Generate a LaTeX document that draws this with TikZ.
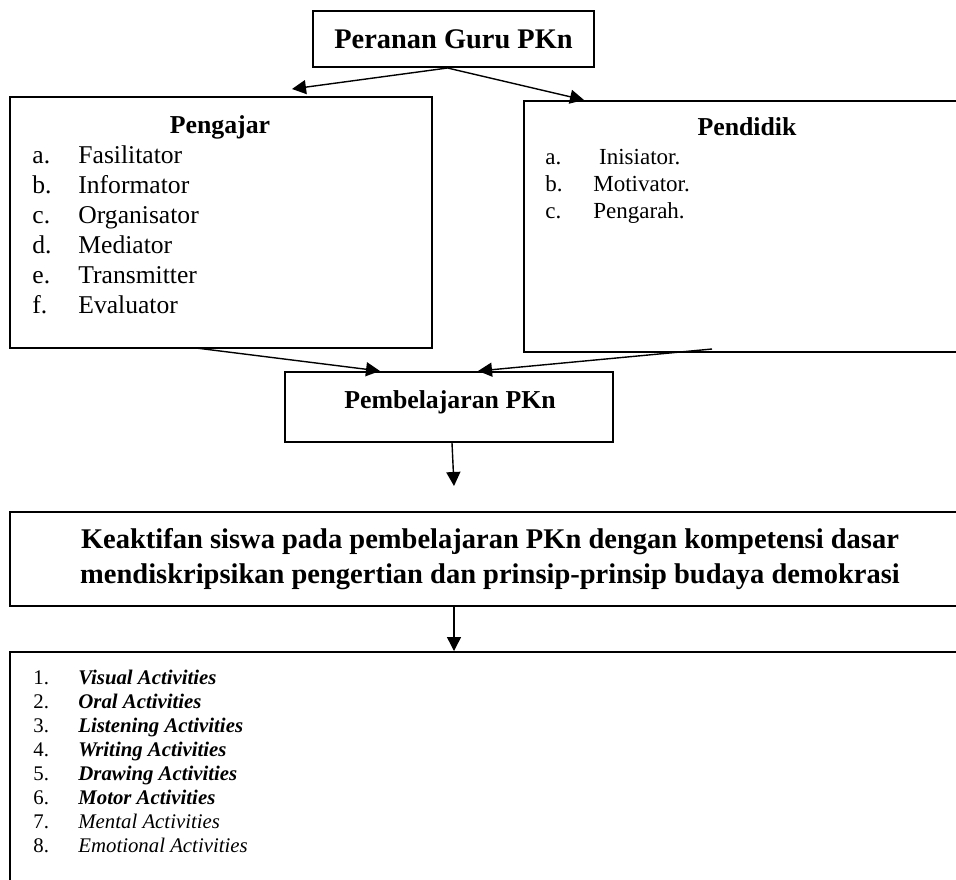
\documentclass[tikz,border=0pt]{standalone}
\usepackage{fontspec}
\setmainfont{Liberation Serif}
\usetikzlibrary{arrows.meta}

\begin{document}
\begin{tikzpicture}[x=0.5pt, y=-0.5pt,
    kotak/.style={draw, rectangle, line width=1pt, inner sep=0pt},
    judul/.style={anchor=base, inner sep=0pt, font=\bfseries\fontsize{12.9}{15}\selectfont},
    daftar/.style={anchor=base west, inner sep=0pt},
    panah/.style={-{Triangle[length=7pt, width=7pt]}, line width=0.7pt}]
  \clip (0,0) rectangle (956,879);
  % kotak utama
  \node[kotak, minimum width=140.5pt, minimum height=28pt, font=\bfseries\fontsize{14.2}{17}\selectfont] (guru) at (453.5,39) {Peranan Guru PKn};
  \node[kotak, minimum width=211pt, minimum height=125.5pt] (pengajar) at (221,222.5) {};
  \node[kotak, minimum width=222.5pt, minimum height=125.5pt] (pendidik) at (746.5,226.5) {};
  \node[kotak, minimum width=164pt, minimum height=35pt] (pembelajaran) at (449,407) {};
  \node[kotak, minimum width=480pt, minimum height=47pt, align=center, font=\bfseries\fontsize{14.25}{17.5}\selectfont] (keaktifan) at (490,559)
    {Keaktifan siswa pada pembelajaran PKn dengan kompetensi dasar\\ mendiskripsikan pengertian dan prinsip-prinsip budaya demokrasi};
  \node[kotak, minimum width=480pt, minimum height=124pt] (aktivitas) at (490,776) {};

  % isi kotak
  \node[judul] (pengajarjudul) at (220,133) {Pengajar};
  \node[daftar, font=\fontsize{12.8}{15}\selectfont] (pengajarisi) at (32,163)
    {\begin{tabular}[t]{@{}p{23pt}@{}l@{}}
      a. & Fasilitator\\
      b. & Informator\\
      c. & Organisator\\
      d. & Mediator\\
      e. & Transmitter\\
      f. & Evaluator
    \end{tabular}};
  \node[judul] (pendidikjudul) at (747,135) {Pendidik};
  \node[daftar, font=\fontsize{11.5}{13.5}\selectfont] (pendidikisi) at (545,164)
    {\begin{tabular}[t]{@{}p{24pt}@{}l@{}}
      a. & \ Inisiator.\\
      b. & Motivator.\\
      c. & Pengarah.
    \end{tabular}};
  \node[judul] (pembelajaranjudul) at (450,408) {Pembelajaran PKn};
  \node[daftar, font=\fontsize{10.4}{12}\selectfont] (aktivitasisi) at (33,684)
    {\begin{tabular}[t]{@{}p{22.5pt}@{}l@{}}
      1. & \textbf{\textit{Visual Activities}}\\
      2. & \textbf{\textit{Oral Activities}}\\
      3. & \textbf{\textit{Listening Activities}}\\
      4. & \textbf{\textit{Writing Activities}}\\
      5. & \textbf{\textit{Drawing Activities}}\\
      6. & \textbf{\textit{Motor Activities}}\\
      7. & \textit{Mental Activities}\\
      8. & \textit{Emotional Activities}
    \end{tabular}};

  % panah
  \draw[panah] ([xshift=-3pt]guru.south) -- ([shift={(71,-7)}]pengajar.north);
  \draw[panah] ([xshift=-3pt]guru.south) -- ([shift={(61,0)}]pendidik.north west);
  \draw[panah] ([shift={(-25,-1)}]pengajar.south) -- ([shift={(96,0)}]pembelajaran.north west);
  \draw[panah] ([shift={(189,-4)}]pendidik.south west) -- ([shift={(194,0)}]pembelajaran.north west);
  \draw[panah] ([xshift=1.5pt]pembelajaran.south) -- ([shift={(-36,-25)}]keaktifan.north);
  \draw[panah] ([xshift=-18pt]keaktifan.south) -- ([xshift=-18pt]aktivitas.north);
\end{tikzpicture}
\end{document}
